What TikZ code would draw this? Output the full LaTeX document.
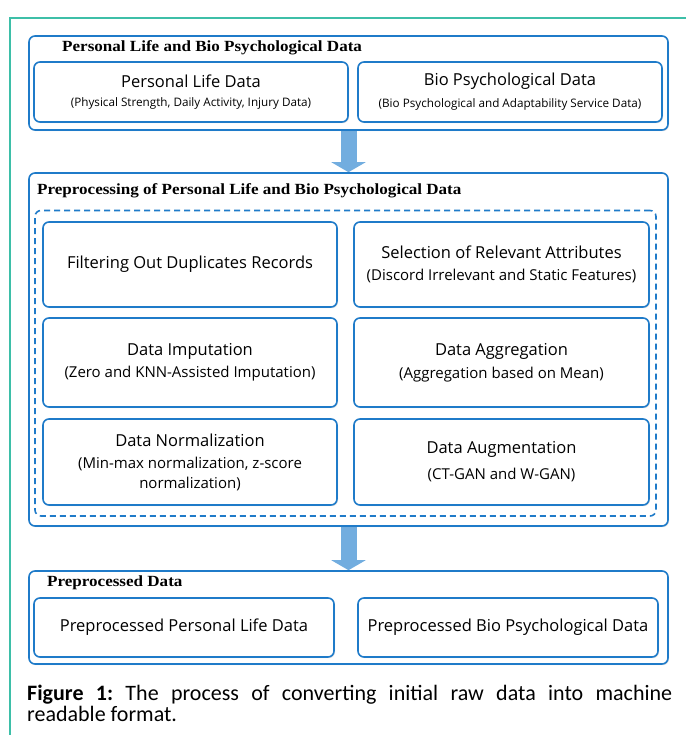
\documentclass[tikz,border=0pt]{standalone}
\usepackage{fontspec}
\setmainfont{Open Sans}
\newfontfamily\titlefont[FakeStretch=1.1]{Liberation Serif}
\newfontfamily\captionfont{Carlito}
\usetikzlibrary{arrows.meta,shadows,backgrounds}
\definecolor{boxblue}{HTML}{1F7BC9}
\definecolor{arrowblue}{HTML}{72ADDF}
\definecolor{frameteal}{HTML}{3DBFA8}
\newcommand{\mainsize}{\fontsize{16.5}{20}\selectfont}
\newcommand{\subsize}{\fontsize{15}{18}\selectfont}
\newcommand{\smallsub}{\fontsize{11.7}{14}\selectfont}

\begin{document}
\begin{tikzpicture}[x=1pt,y=-1pt,
		outerbox/.style={draw=boxblue,line width=1.6pt,rounded corners=6pt,fill=white,inner sep=0pt,
			drop shadow={shadow xshift=1pt,shadow yshift=-1.2pt,opacity=0.2}},
		innerbox/.style={outerbox,align=center,font=\fontsize{15}{22}\selectfont},
		dashbox/.style={draw=boxblue,line width=1.6pt,rounded corners=6pt,dash pattern=on 6pt off 4pt,inner sep=0pt},
		boxtitle/.style={anchor=west,inner sep=0pt,font=\titlefont\bfseries\fontsize{15.5}{18}\selectfont},
		flowarrow/.style={arrowblue,line width=16pt,-{Triangle[width=34pt,length=10pt]}}]
		\useasboundingbox (0,0) rectangle (686,735);
		% thin frame of the page
		\draw[frameteal,line width=1.3pt] (10,735) -- (10,18) -- (686,18);
		% first stage
		\node[outerbox,minimum width=639pt,minimum height=94pt] (raw) at (348.5,83) {};
		\node[boxtitle] (rawtitle) at (62,47.5) {Personal Life and Bio Psychological Data};
		\node[innerbox,minimum width=314pt,minimum height=60pt] (life) at (191,92)
			{{\mainsize Personal Life Data}\\[-3.5pt]{\smallsub (Physical Strength, Daily Activity, Injury Data)}};
		\node[innerbox,minimum width=304pt,minimum height=60pt] (bio) at (510,92)
			{{\mainsize Bio Psychological Data}\\[0pt]{\smallsub (Bio Psychological and Adaptability Service Data)}};
		% second stage
		\node[outerbox,minimum width=639pt,minimum height=353pt] (prep) at (348.5,349.5) {};
		\node[boxtitle] (preptitle) at (37,190.5) {Preprocessing of Personal Life and Bio Psychological Data};
		\node[dashbox,minimum width=621pt,minimum height=305.5pt] (steps) at (345.5,363.25) {};
		\node[innerbox,minimum width=294pt,minimum height=85pt] (filter) at (190,264.5)
			{\mainsize Filtering Out Duplicates Records};
		\node[innerbox,minimum width=295pt,minimum height=85pt] (select) at (501.5,264.5)
			{{\mainsize Selection of Relevant Attributes}\\[0pt]{\subsize (Discord Irrelevant and Static Features)}};
		\node[innerbox,minimum width=294pt,minimum height=89pt] (impute) at (190,362.5)
			{{\mainsize Data Imputation}\\[0pt]{\subsize (Zero and KNN-Assisted Imputation)}};
		\node[innerbox,minimum width=295pt,minimum height=89pt] (aggr) at (501.5,362.5)
			{{\mainsize Data Aggregation}\\[1pt]{\subsize (Aggregation based on Mean)}};
		\node[innerbox,minimum width=294pt,minimum height=86pt] (norm) at (190,462)
			{{\mainsize Data Normalization}\\[0pt]{\subsize (Min-max normalization, z-score}\\[-2pt]{\subsize normalization)}};
		\node[innerbox,minimum width=295pt,minimum height=86pt] (augm) at (501.5,462)
			{{\mainsize Data Augmentation}\\[4pt]{\subsize (CT-GAN and W-GAN)}};
		% third stage
		\node[outerbox,minimum width=639pt,minimum height=93pt] (done) at (348.5,617.5) {};
		\node[boxtitle] (donetitle) at (47,583) {Preprocessed Data};
		\node[innerbox,minimum width=300pt,minimum height=59pt] (donelife) at (184,627.5)
			{\mainsize Preprocessed Personal Life Data};
		\node[innerbox,minimum width=300pt,minimum height=59pt] (donebio) at (508,627.5)
			{\mainsize Preprocessed Bio Psychological Data};
		% arrows between stages
		\begin{scope}[on background layer]
			\draw[flowarrow] (raw.south) -- (prep.north);
			\draw[flowarrow] (prep.south) -- (done.north);
		\end{scope}
		% caption
		\node[anchor=north west,inner sep=0pt,text width=645pt,align=justify,
			font=\captionfont\fontsize{22}{21.5}\selectfont\frenchspacing] (caption) at (27,684.5)
			{\textbf{Figure 1:} The process of converting initial raw data into machine\linebreak readable format.};
	\end{tikzpicture}
\end{document}
